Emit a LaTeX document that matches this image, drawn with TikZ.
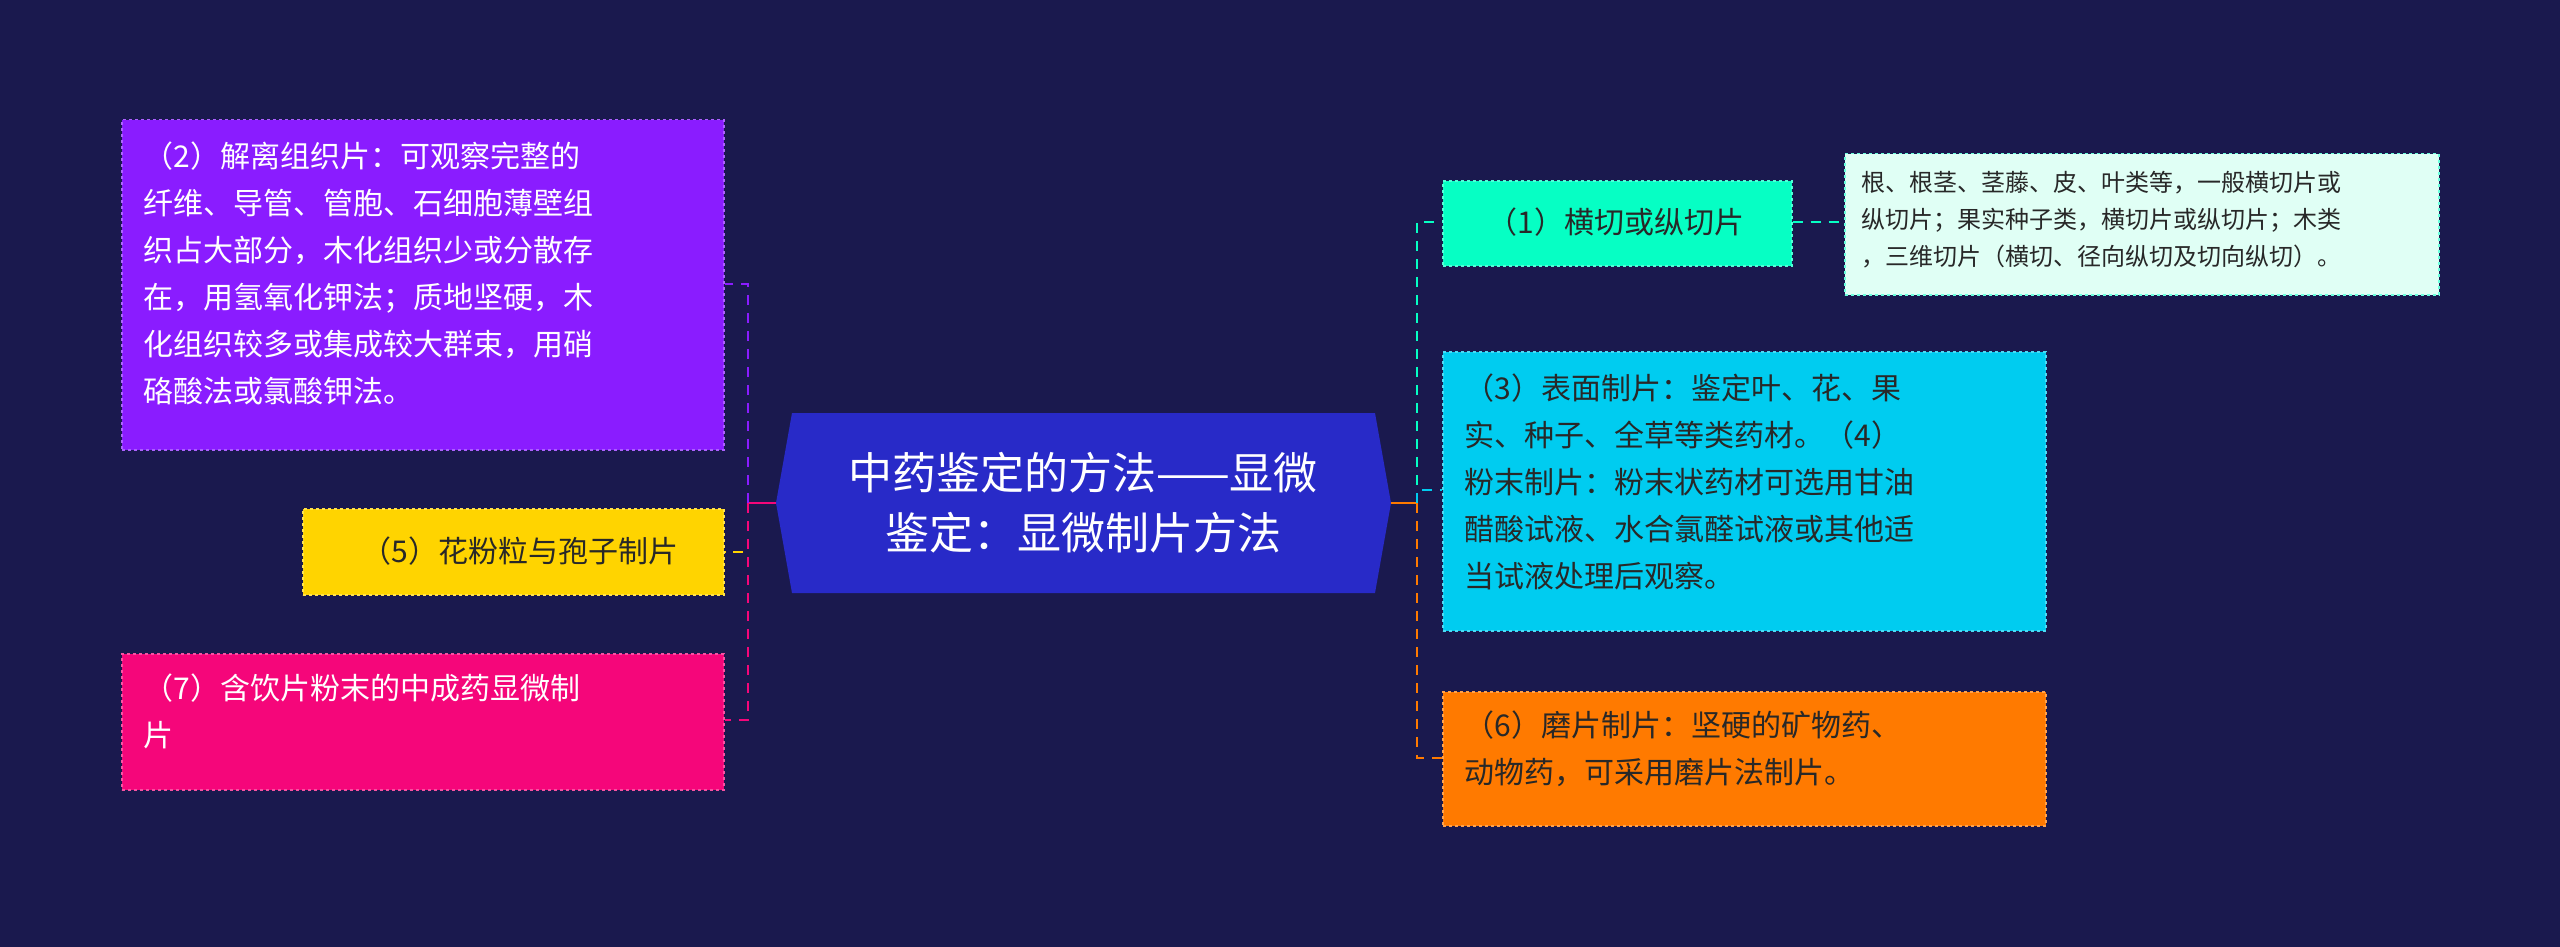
\documentclass[tikz,border=0pt]{standalone}
\usepackage{fontspec}
\setmainfont{Noto Sans CJK SC}
\definecolor{bg}{RGB}{26,25,78}
\definecolor{cen}{RGB}{40,42,200}
\definecolor{pur}{RGB}{138,28,255}
\definecolor{yel}{RGB}{255,212,0}
\definecolor{pnk}{RGB}{245,6,122}
\definecolor{grn}{RGB}{6,255,196}
\definecolor{lgt}{RGB}{224,255,245}
\definecolor{cyn}{RGB}{0,204,240}
\definecolor{org}{RGB}{255,122,0}
\definecolor{dtxt}{RGB}{40,40,40}
\tikzset{
 box/.style={rectangle,dashed,line width=1.5pt,inner sep=0pt,anchor=north west,font=\fontsize{30}{47}\selectfont},
 lnk/.style={dashed,line width=2.5pt,dash pattern=on 10pt off 8pt},
}
\begin{document}
\begin{tikzpicture}[x=1pt,y=-1pt]
\fill[bg] (0,0) rectangle (2560,947);
\useasboundingbox (0,0) rectangle (2560,947);
% center
\fill[cen] (776,503) -- (792,413) -- (1375,413) -- (1391,503) -- (1375,593) -- (792,593) -- cycle;
\node[text=white,align=center,font=\fontsize{44}{60}\selectfont] (c) at (1083,503) {中药鉴定的方法——显微\\鉴定：显微制片方法};
\coordinate (cl) at (776,503);
\coordinate (cr) at (1391,503);
% left boxes
\node[box,fill=pur,draw=pur!70!white,minimum width=602,minimum height=330,text=white] (p) at (121,119) {};
\node[text=white,anchor=north west,align=left,font=\fontsize{30}{47}\selectfont] at (140,138) {\hspace*{0pt}（2）解离组织片：可观察完整的\\纤维、导管、管胞、石细胞薄壁组\\织占大部分，木化组织少或分散存\\在，用氢氧化钾法；质地坚硬，木\\化组织较多或集成较大群束，用硝\\硌酸法或氯酸钾法。};
\node[box,fill=yel,draw=yel!70!white,minimum width=421,minimum height=86] (y) at (302,508) {};
\node[text=dtxt,font=\fontsize{30}{40}\selectfont] at (520,551) {（5）花粉粒与孢子制片};
\node[box,fill=pnk,draw=pnk!70!white,minimum width=602,minimum height=136] (k) at (121,653) {};
\node[text=white,anchor=north west,align=left,font=\fontsize{30}{47}\selectfont] at (140,670) {（7）含饮片粉末的中成药显微制\\片};
% right boxes
\node[box,fill=grn,draw=grn!70!white,minimum width=349,minimum height=85] (g) at (1442,180) {};
\node[text=dtxt,font=\fontsize{30}{40}\selectfont] at (1616,222) {（1）横切或纵切片};
\node[box,fill=lgt,draw=grn!60!white,minimum width=594,minimum height=141] (l) at (1844,153) {};
\node[text=dtxt,anchor=north west,align=left,font=\fontsize{24}{37}\selectfont] at (1858,168) {根、根茎、茎藤、皮、叶类等，一般横切片或\\纵切片；果实种子类，横切片或纵切片；木类\\，三维切片（横切、径向纵切及切向纵切）。};
\node[box,fill=cyn,draw=cyn!70!white,minimum width=603,minimum height=279] (s) at (1442,351) {};
\node[text=dtxt,anchor=north west,align=left,font=\fontsize{30}{47}\selectfont] at (1461,370) {（3）表面制片：鉴定叶、花、果\\实、种子、全草等类药材。（4）\\粉末制片：粉末状药材可选用甘油\\醋酸试液、水合氯醛试液或其他适\\当试液处理后观察。};
\node[box,fill=org,draw=org!70!white,minimum width=603,minimum height=134] (o) at (1442,691) {};
\node[text=dtxt,anchor=north west,align=left,font=\fontsize{30}{47}\selectfont] at (1461,707) {（6）磨片制片：坚硬的矿物药、\\动物药，可采用磨片法制片。};
% connectors left
\coordinate (tl) at (748,503);
\draw[pnk,line width=2.5pt] (cl) -- (tl);
\draw[lnk,pur] (tl) -- (748,284) -- (p.east |- 0,284);
\draw[lnk,yel] (tl) -- (748,552) -- (y.east |- 0,552);
\draw[lnk,pnk] (tl) -- (748,720) -- (k.east |- 0,720);
% connectors right
\coordinate (tr) at (1417,503);
\draw[org,line width=2.5pt] (cr) -- (tr);
\draw[lnk,grn] (tr) -- (1417,222) -- (g.west |- 0,222);
\draw[lnk,cyn] (tr) -- (1417,490) -- (s.west |- 0,490);
\draw[lnk,org] (tr) -- (1417,758) -- (o.west |- 0,758);
\draw[lnk,grn] (g.east |- 0,222) -- (l.west |- 0,222);
\end{tikzpicture}
\end{document}
